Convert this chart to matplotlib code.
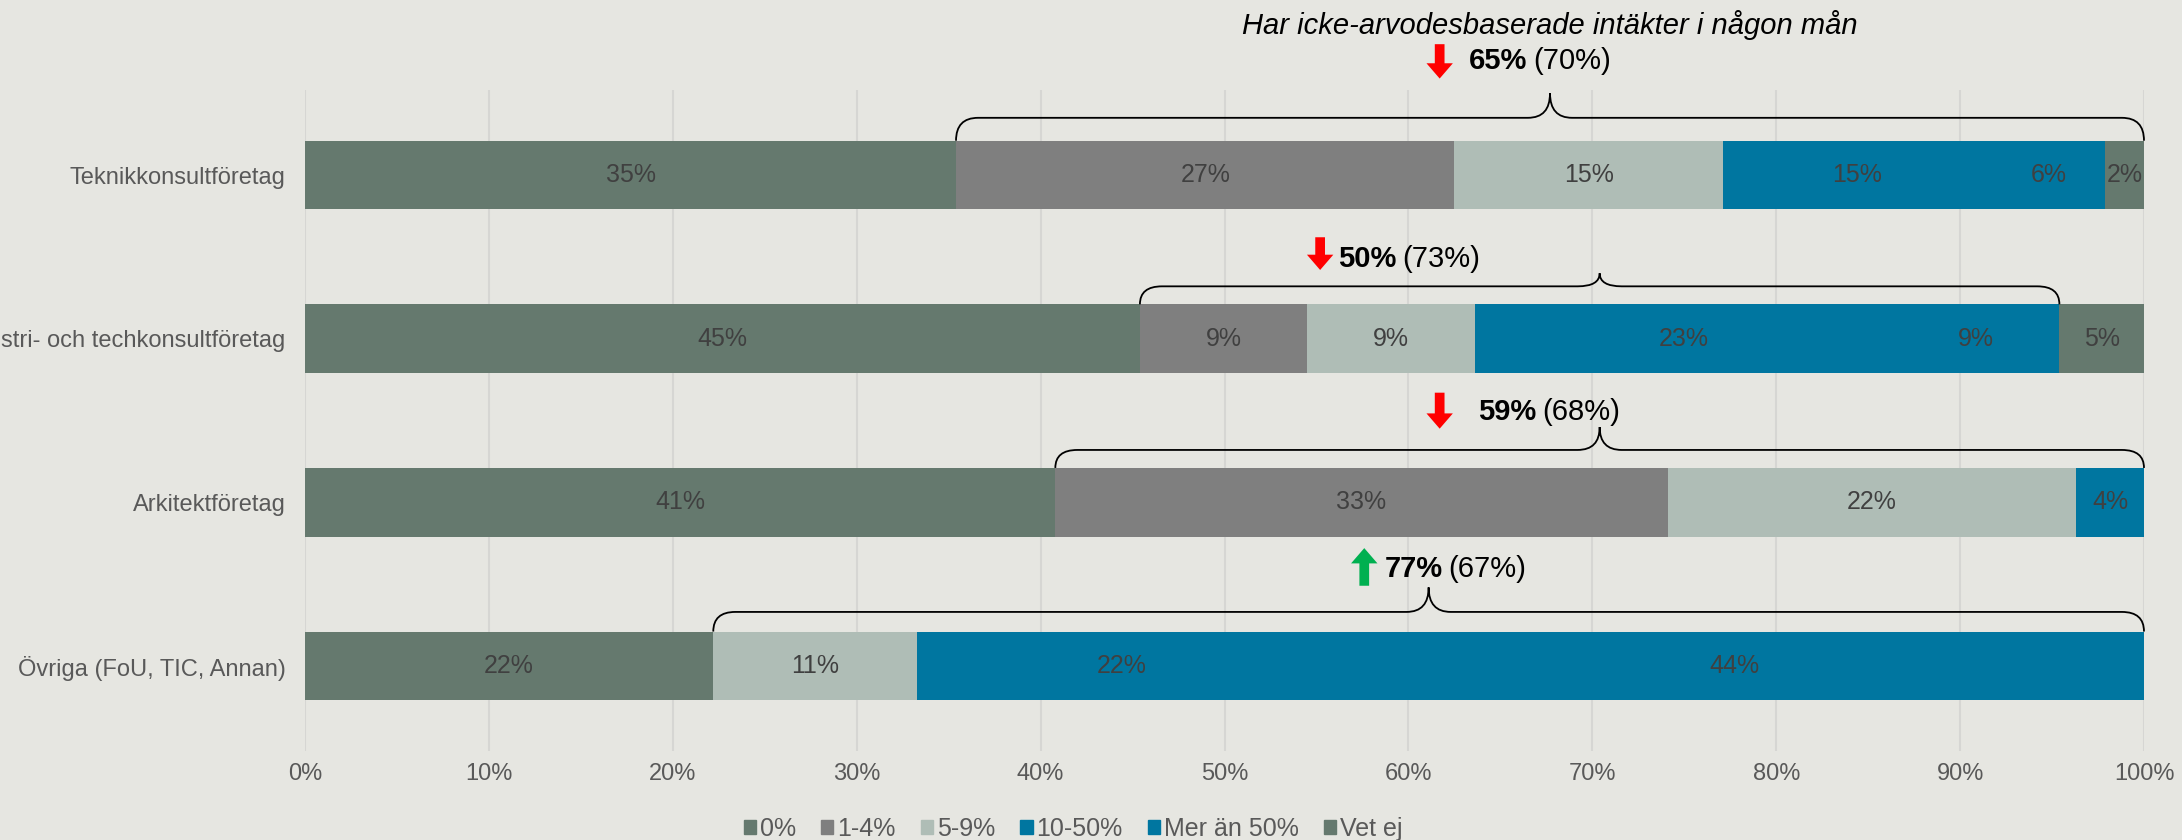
import numpy as np
import matplotlib.pyplot as plt
from matplotlib.path import Path
from matplotlib.patches import PathPatch, Patch

# categories (top to bottom)
categories = ['Teknikkonsultföretag', 'Industri- och techkonsultföretag',
              'Arkitektföretag', 'Övriga (FoU, TIC, Annan)']
series = ['0%', '1-4%', '5-9%', '10-50%', 'Mer än 50%', 'Vet ej']

# shares per series (percent), one value per category
share_0 = [35.4, 45.4, 40.8, 22.2]
share_1_4 = [27.1, 9.1, 33.3, 0.0]
share_5_9 = [14.6, 9.1, 22.2, 11.1]
share_10_50 = [14.6, 22.7, 3.7, 22.2]
share_mer_50 = [6.2, 9.1, 0.0, 44.5]
share_vet_ej = [2.1, 4.6, 0.0, 0.0]

# "Har icke-arvodesbaserade intäkter i någon mån": this year (previous year)
total_now = [65, 50, 59, 77]
total_prev = [70, 73, 68, 67]
trend_up = [False, False, False, True]
brace_incl_vetej = [True, False, True, True]

colors = ['#65796E', '#7F7F7F', '#AFBDB6', '#0076A0', '#0076A0', '#65796E']
bg = '#E6E6E1'
narrow = ['Liberation Sans Narrow', 'Liberation Sans']
plt.rcParams['font.family'] = ['Liberation Sans', 'DejaVu Sans']

data = np.array([share_0, share_1_4, share_5_9, share_10_50, share_mer_50, share_vet_ej])
y = np.arange(len(categories))

fig = plt.figure(figsize=(21.82, 8.4), dpi=100, facecolor=bg)
ax = fig.add_axes([305 / 2182, 1 - 751 / 840, (2144 - 305) / 2182, (751 - 90) / 840])
ax.set_facecolor(bg)

left = np.zeros(len(categories))
for k, name in enumerate(series):
    vals = data[k]
    ax.barh(y, vals, left=left, height=0.42, color=colors[k], label=name, zorder=2)
    for i, v in enumerate(vals):
        if v > 0:
            ax.text(left[i] + v / 2, y[i], f'{round(v)}%', ha='center', va='center',
                    fontsize=18, color='#404040', family=narrow, zorder=3)
    left += vals

ax.set_xlim(0, 100)
ax.set_ylim(3.52, -0.52)
ax.set_xticks(np.arange(0, 101, 10))
ax.set_xticklabels([f'{t}%' for t in range(0, 101, 10)])
ax.set_yticks(y)
ax.set_yticklabels(categories)
ax.tick_params(axis='x', length=0, pad=9, labelsize=17, labelcolor='#595959')
ax.tick_params(axis='y', length=0, pad=14, labelsize=17, labelcolor='#595959')
ax.grid(axis='x', color='#D6D6D3', linewidth=1.5, zorder=0)
for s in ax.spines.values():
    s.set_visible(False)

# braces above each bar
brace_y = [-0.35, -0.32, -0.32, -0.33]
brace_tip = [-0.50, -0.40, -0.46, -0.48]
r = 1.2
for i in range(len(categories)):
    x0 = share_0[i]
    x1 = 100 - (0 if brace_incl_vetej[i] else share_vet_ej[i])
    xm = (x0 + x1) / 2
    hy, ty, ey = y[i] + brace_y[i], y[i] + brace_tip[i], y[i] - 0.21
    verts = [(x0, ey), (x0, hy), (x0 + r, hy),
             (xm - r, hy), (xm, hy), (xm, ty),
             (xm, hy), (xm + r, hy),
             (x1 - r, hy), (x1, hy), (x1, ey)]
    codes = [Path.MOVETO, Path.CURVE3, Path.CURVE3,
             Path.LINETO, Path.CURVE3, Path.CURVE3,
             Path.CURVE3, Path.CURVE3,
             Path.LINETO, Path.CURVE3, Path.CURVE3]
    ax.add_patch(PathPatch(Path(verts, codes), fill=False, lw=1.3, color='black',
                           clip_on=False, zorder=4))

# labels with arrows
arrow_x = [61.7, 55.2, 61.7, 57.6]
text_x = [63.3, 56.2, 63.8, 58.7]
text_y = [-0.70, -0.486, -0.551, -0.59]
arrow_top = [-0.80, -0.62, -0.67, -0.72]
arrow_bot = [-0.59, -0.42, -0.45, -0.49]
for i in range(len(categories)):
    if trend_up[i]:
        tail, head, col = arrow_bot[i], arrow_top[i], '#00B050'
    else:
        tail, head, col = arrow_top[i], arrow_bot[i], '#FF0000'
    ax.annotate('', xy=(arrow_x[i], y[i] + head), xytext=(arrow_x[i], y[i] + tail),
                arrowprops=dict(width=7, headwidth=19, headlength=11, shrink=0,
                                color=col, lw=0), annotation_clip=False)
    t = ax.text(text_x[i], y[i] + text_y[i], f'{total_now[i]}%', ha='left', va='center',
                fontsize=21, fontweight='bold', family=narrow, color='black')
    ax.annotate(f'({total_prev[i]}%)', xy=(1, 0), xycoords=t, xytext=(4, 0),
                textcoords='offset points', ha='left', va='bottom',
                fontsize=21, family=narrow, color='black')

ax.text(67.7, -0.92, 'Har icke-arvodesbaserade intäkter i någon mån', ha='center',
        va='center', fontsize=21, style='italic', family=narrow, color='black')

handles = [Patch(color=c) for c in colors]
fig.legend(handles, series, loc='center', bbox_to_anchor=(1073 / 2182, 1 - 829 / 840),
           ncol=6, frameon=False, fontsize=18, handlelength=0.5, handleheight=0.5,
           handletextpad=0.15, columnspacing=1.0, labelcolor='#595959')

fig.savefig('out.png', dpi=100, facecolor=bg)
